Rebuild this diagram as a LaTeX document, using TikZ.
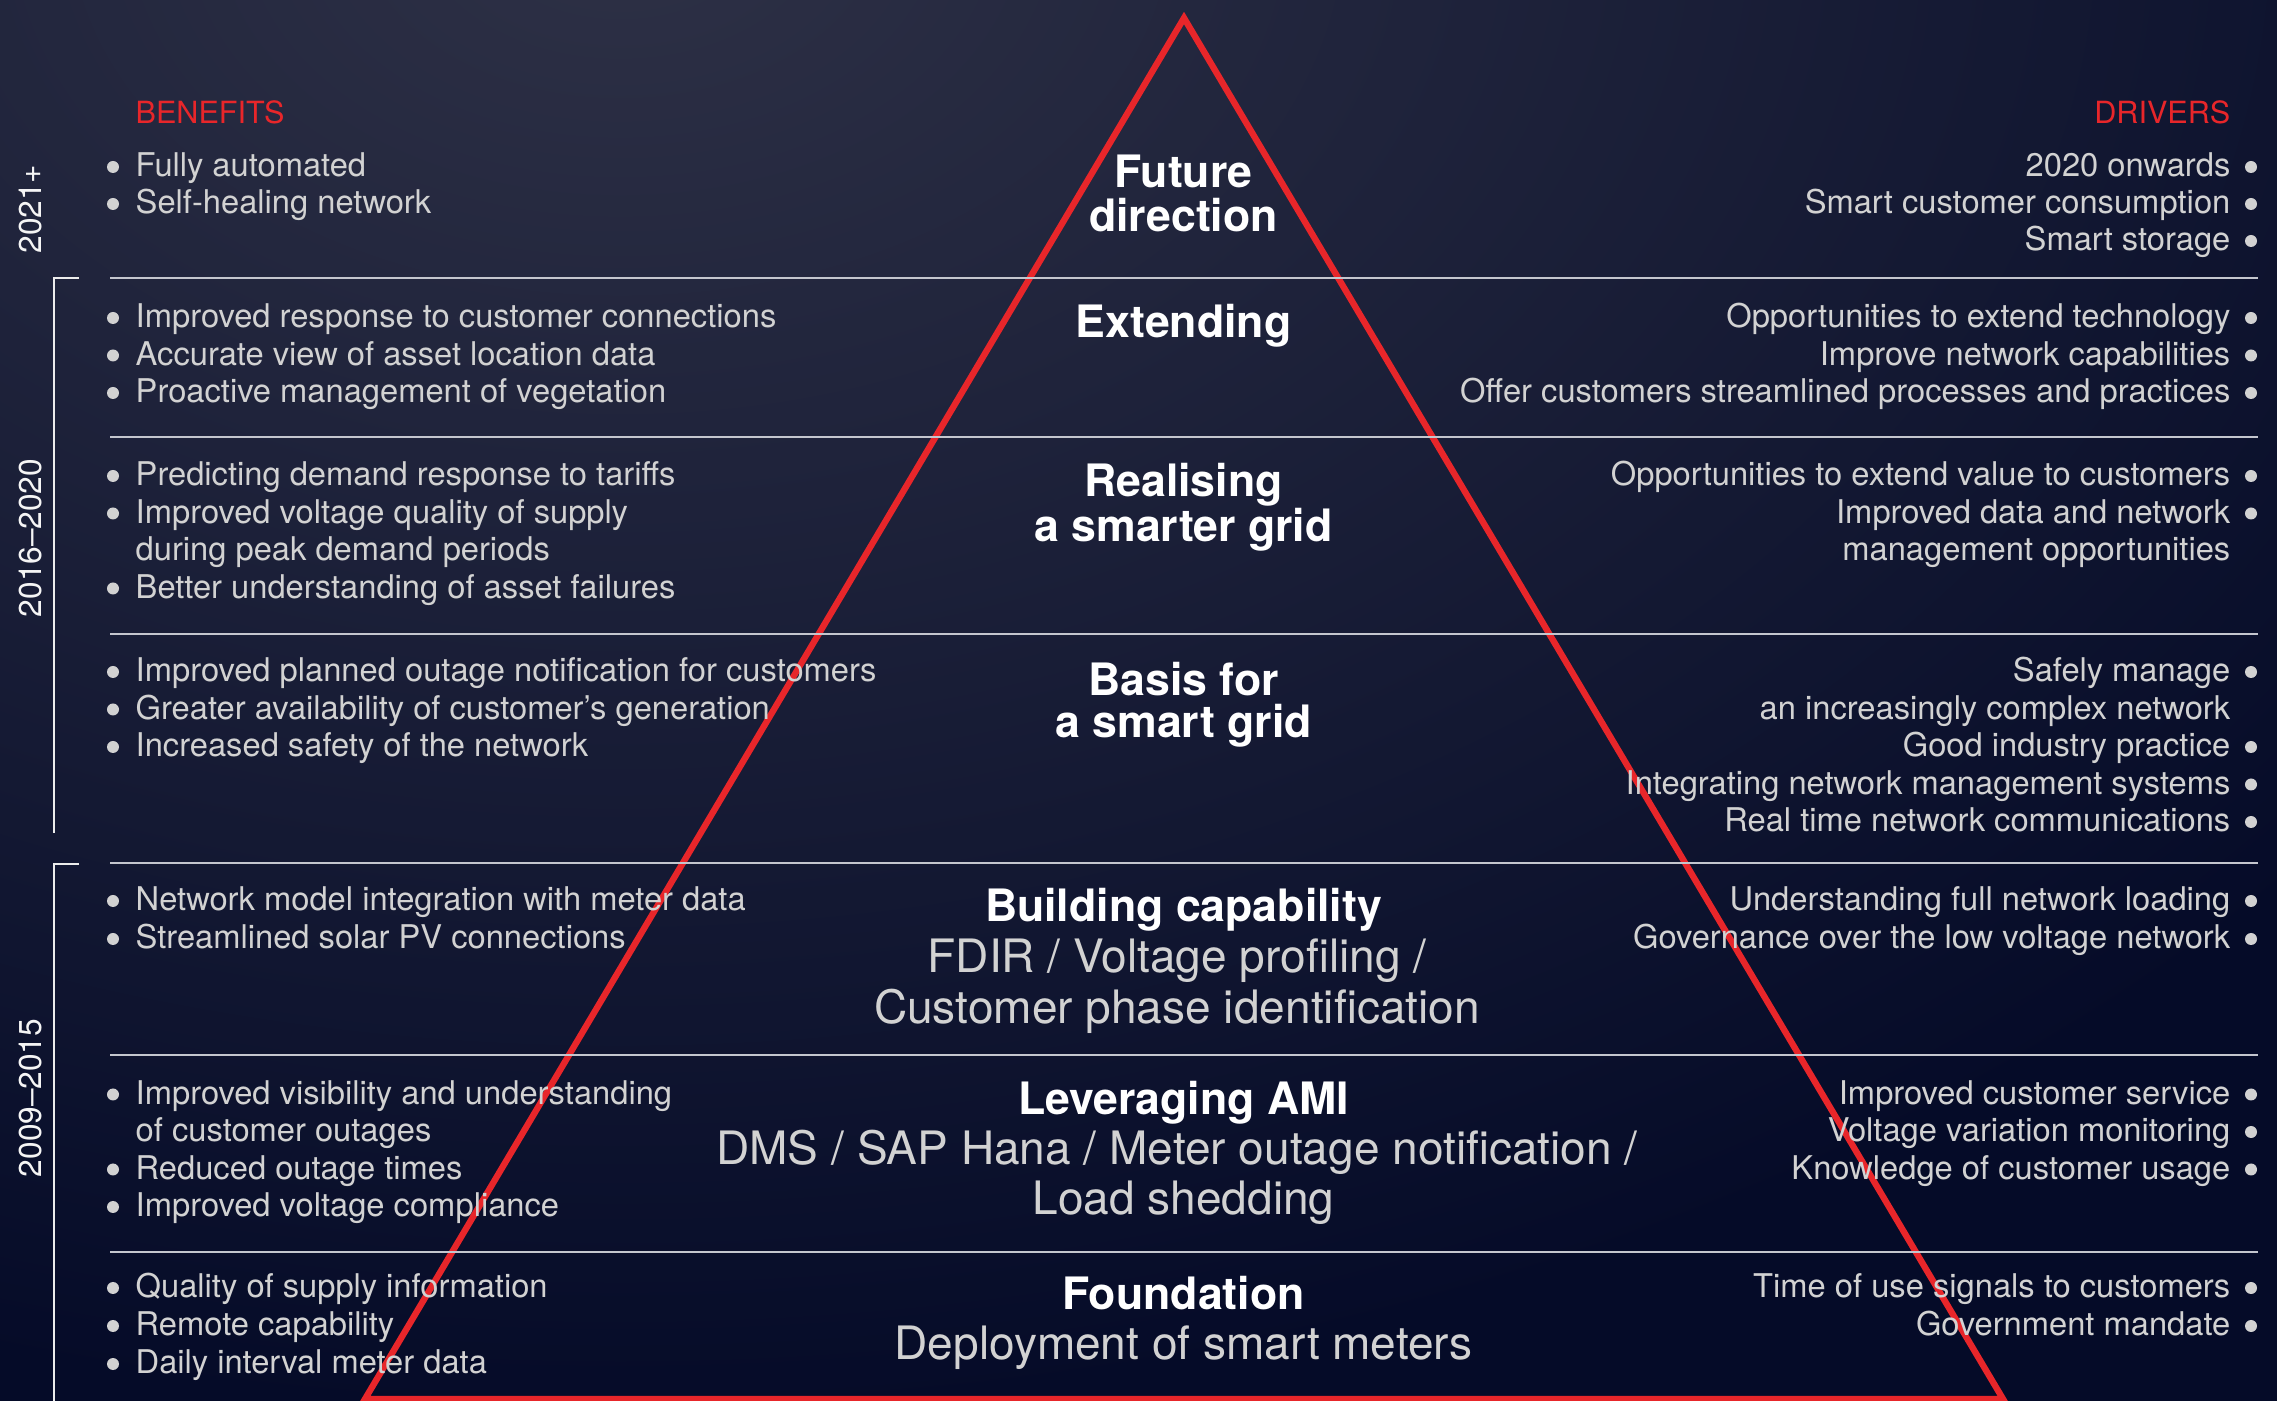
\documentclass[tikz,border=0pt]{standalone}
\usepackage{fontspec}
\setmainfont{TeX Gyre Heros}
\usepackage{tikz}
\usetikzlibrary{positioning}
\definecolor{navy}{HTML}{050B28}
\definecolor{haze}{HTML}{2E3146}
\definecolor{gridred}{HTML}{E8262A}
\definecolor{txtgray}{HTML}{D2D2D2}
\definecolor{rulegray}{HTML}{C4C6CE}
\newcommand{\bodysize}{\fontsize{9.3}{11}\selectfont}

\begin{document}
\begin{tikzpicture}[
    x=1cm, y=-1cm,
    ben/.style={anchor=base west, inner sep=0pt, text=txtgray, font=\bodysize},
    drv/.style={anchor=base east, inner sep=0pt, text=txtgray, font=\bodysize},
    colhead/.style={inner sep=0pt, text=gridred, font=\fontsize{8.7}{10}\selectfont},
    stage/.style={anchor=base, inner sep=0pt, text=white, font=\fontsize{12.7}{14}\selectfont\bfseries},
    tech/.style={anchor=base, inner sep=0pt, text=txtgray, font=\fontsize{13.1}{15}\selectfont},
    period/.style={rotate=90, inner sep=0pt, text=white!92!gray, font=\fontsize{9}{11}\selectfont},
    rowline/.style={rulegray, line width=0.6pt},
    bracket/.style={white!85!gray, line width=0.6pt},
    pyramid/.style={gridred, line width=1.8pt, line join=miter},
    bul/.style={fill=txtgray}
]
% Backdrop with glow at the top
\useasboundingbox (0,0) rectangle (22.77,14.01);
\fill[navy] (0,0) rectangle (22.77,14.01);
\begin{scope}
    \clip (0,0) rectangle (22.77,14.01);
    \shade[inner color=haze, outer color=navy] (6.2,-0.8) ellipse (22 and 15);
\end{scope}

% Pyramid
\draw[pyramid] (11.84,0.18) -- (20.03,13.99) -- (3.65,13.99) -- cycle;

% Row separators
\foreach \y in {2.78,4.37,6.34,8.63,10.55,12.52}
    \draw[rowline] (1.10,\y) -- (22.58,\y);

% Time periods
\draw[bracket] (0.79,2.78) -- (0.54,2.78) -- (0.54,8.33);
\draw[bracket] (0.79,8.64) -- (0.54,8.64) -- (0.54,14.01);
\node[period] (p2021) at (0.31,2.09) {2021+};
\node[period] (p2016) at (0.31,5.38) {2016–2020};
\node[period] (p2009) at (0.31,10.98) {2009–2015};

% Column headings
\node[colhead, anchor=base west] (benefits) at (1.35,1.24) {BENEFITS};
\node[colhead, anchor=base east] (drivers) at (22.31,1.24) {DRIVERS};

% Benefits
\foreach \y/\t [count=\i] in {1.77/Fully automated, 2.14/Self-healing network,
    3.28/Improved response to customer connections, 3.655/Accurate view of asset location data,
    4.03/Proactive management of vegetation,
    4.86/Predicting demand response to tariffs, 5.235/Improved voltage quality of supply,
    5.985/Better understanding of asset failures,
    6.82/Improved planned outage notification for customers,
    7.195/Greater availability of customer’s generation, 7.57/Increased safety of the network,
    9.11/Network model integration with meter data, 9.49/Streamlined solar PV connections,
    11.045/Improved visibility and understanding, 11.795/Reduced outage times,
    12.17/Improved voltage compliance,
    12.98/Quality of supply information, 13.36/Remote capability, 13.74/Daily interval meter data}
{
    \node[ben] (ben\i) at (1.35,\y) {\t};
    \fill[bul] ([xshift=-2.2mm,yshift=1mm]ben\i.base west) circle (0.6mm);
}
\node[ben] (benwrapa) at (1.35,5.61) {during peak demand periods};
\node[ben] (benwrapb) at (1.35,11.42) {of customer outages};

% Drivers
\foreach \y/\t [count=\i] in {1.77/2020 onwards, 2.14/Smart customer consumption, 2.51/Smart storage,
    3.28/Opportunities to extend technology, 3.655/Improve network capabilities,
    4.03/Offer customers streamlined processes and practices,
    4.86/Opportunities to extend value to customers, 5.235/Improved data and network,
    6.82/Safely manage, 7.57/Good industry practice,
    7.945/Integrating network management systems, 8.32/Real time network communications,
    9.11/Understanding full network loading, 9.49/Governance over the low voltage network,
    11.045/Improved customer service, 11.42/Voltage variation monitoring,
    11.795/Knowledge of customer usage,
    12.98/Time of use signals to customers, 13.36/Government mandate}
{
    \node[drv] (drv\i) at (22.31,\y) {\t};
    \fill[bul] ([xshift=2mm,yshift=1mm]drv\i.base east) circle (0.6mm);
}
\node[drv] (drvwrapa) at (22.31,5.61) {management opportunities};
\node[drv] (drvwrapb) at (22.31,7.195) {an increasingly complex network};

% Stages of the pyramid
\foreach \n/\y/\t in {future/1.88/Future, futureb/2.32/direction, extend/3.38/Extending,
    realise/4.97/Realising, realiseb/5.42/a smarter grid,
    basis/6.96/Basis for, basisb/7.38/a smart grid,
    build/9.22/Building capability, ami/11.15/Leveraging AMI, found/13.10/Foundation}
    \node[stage] (\n) at (11.835,\y) {\t};

\node[tech] (buildb) at (11.77,9.73) {FDIR / Voltage profiling /};
\node[tech] (buildc) at (11.77,10.24) {Customer phase identification};
\node[tech] (amib) at (11.77,11.645) {DMS / SAP Hana / Meter outage notification /};
\node[tech] (amic) at (11.835,12.15) {Load shedding};
\node[tech] (foundb) at (11.835,13.595) {Deployment of smart meters};
\end{tikzpicture}
\end{document}
